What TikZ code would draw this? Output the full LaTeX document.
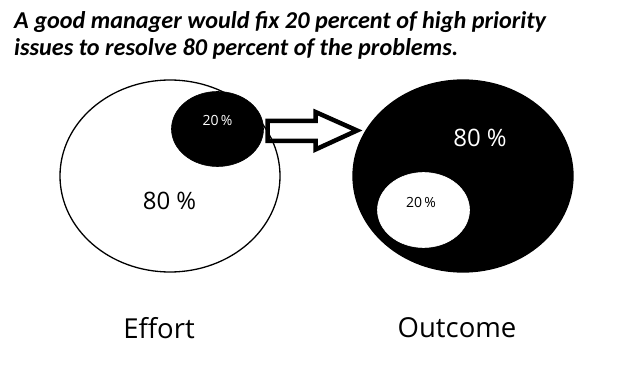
\documentclass[tikz,border=0pt]{standalone}
\usepackage{fontspec}
\setmainfont{Open Sans}
\newfontfamily\titlefont{Carlito}
\usetikzlibrary{shapes.geometric}
\begin{document}
\begin{tikzpicture}[x=1pt,y=-1pt,
  bigcirc/.style={ellipse, draw=black, line width=1.3pt, minimum width=220pt, minimum height=192pt, inner sep=0pt},
  smallcirc/.style={ellipse, draw=black, line width=0.6pt, minimum width=92pt, minimum height=75pt, inner sep=0pt},
  pct/.style={font=\fontsize{24}{28}\selectfont, inner sep=0pt},
  smallpct/.style={font=\fontsize{14}{16}\selectfont, inner sep=0pt},
  caption/.style={font=\fontsize{27.5}{30}\selectfont, inner sep=0pt},
  title/.style={font=\titlefont\bfseries\itshape\fontsize{24.2}{27}\selectfont, anchor=base west, inner sep=0pt},
  blockarrow/.style={draw=black, line width=4.5pt, line join=miter, miter limit=10}]
\useasboundingbox (0,0) rectangle (642,390);
% block arrow
\coordinate (a1) at (267.5,121);
\coordinate (a2) at (315.5,121);
\coordinate (a3) at (315.5,112);
\coordinate (a4) at (357,130.5);
\coordinate (a5) at (315.5,149.5);
\coordinate (a6) at (315.5,141);
\coordinate (a7) at (267.5,141);
\draw[blockarrow] (a1) -- (a2) -- (a3) -- (a4) -- (a5) -- (a6) -- (a7) -- cycle;
\node[bigcirc, fill=none] (effort) at (170,176) {};
\node[smallcirc, fill=black] (hp) at (217.5,129) {};
\node[smallpct, text=white] (hpt) at (217.5,120) {20\,\%};
\node[pct] (e80) at (169.5,201) {80 \%};
\node[bigcirc, fill=black] (outcome) at (463,176) {};
\node[pct, text=white] (o80) at (480,138) {80 \%};
\node[smallcirc, fill=white, draw=white] (res) at (423.5,210) {};
\node[smallpct] (rest) at (421,202) {20\,\%};
\node[caption] (ef) at (159,328) {Effort};
\node[caption] (oc) at (457,328) {Outcome};
\node[title] (t1) at (14,29) {A good manager would fix 20 percent of high priority};
\node[title] (t2) at (14,56) {issues to resolve 80 percent of the problems.};
\end{tikzpicture}
\end{document}
